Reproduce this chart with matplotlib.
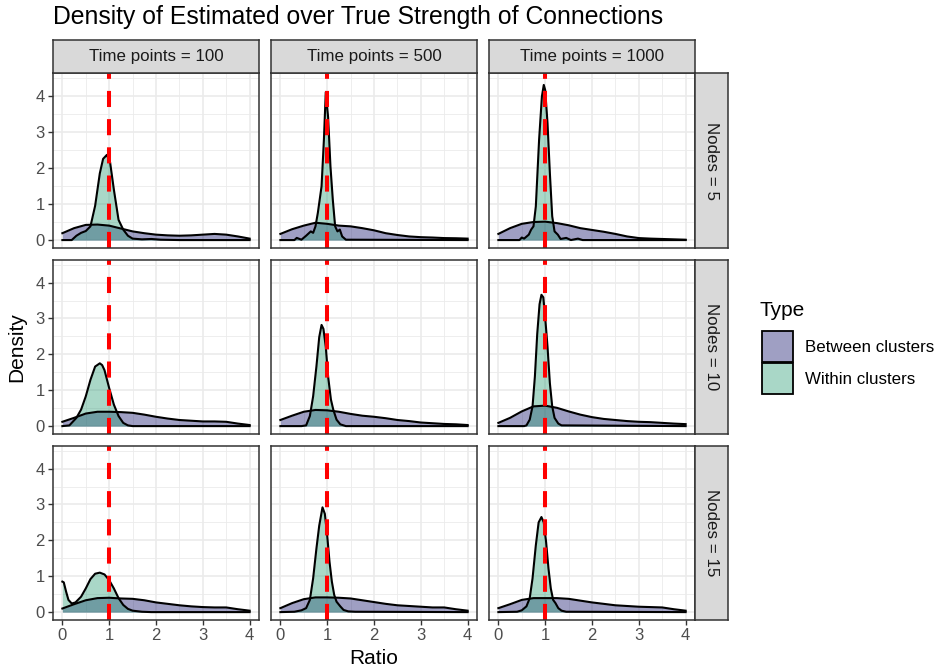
import matplotlib
matplotlib.use("Agg")
import matplotlib.pyplot as plt
from matplotlib.patches import Rectangle

plt.rcParams['font.family'] = ['Liberation Sans', 'DejaVu Sans']

# --- data ---
nodes = [5, 10, 15]
time_points = [100, 500, 1000]

# between clusters: densities on a shared ratio grid
ratio_grid = [0, 0.25, 0.5, 0.75, 1.0, 1.25, 1.5, 1.75, 2.0, 2.25, 2.5, 2.75, 3.0, 3.25, 3.5, 3.75, 4.0]
between_n5_t100 = [0.19, 0.33, 0.42, 0.43, 0.40, 0.32, 0.24, 0.19, 0.15, 0.13, 0.12, 0.13, 0.15, 0.17, 0.15, 0.10, 0.04]
between_n5_t500 = [0.17, 0.30, 0.40, 0.48, 0.45, 0.40, 0.38, 0.33, 0.27, 0.19, 0.14, 0.10, 0.08, 0.07, 0.055, 0.05, 0.04]
between_n5_t1000 = [0.17, 0.33, 0.45, 0.50, 0.51, 0.47, 0.41, 0.33, 0.28, 0.23, 0.17, 0.10, 0.055, 0.04, 0.03, 0.02, 0.01]
between_n10_t100 = [0.12, 0.23, 0.35, 0.40, 0.40, 0.39, 0.37, 0.32, 0.26, 0.21, 0.17, 0.15, 0.13, 0.13, 0.12, 0.07, 0.03]
between_n10_t500 = [0.17, 0.29, 0.40, 0.45, 0.44, 0.40, 0.34, 0.29, 0.26, 0.22, 0.17, 0.14, 0.10, 0.08, 0.06, 0.05, 0.03]
between_n10_t1000 = [0.09, 0.23, 0.41, 0.55, 0.57, 0.51, 0.41, 0.32, 0.25, 0.20, 0.17, 0.14, 0.12, 0.11, 0.09, 0.07, 0.055]
between_n15_t100 = [0.10, 0.22, 0.33, 0.39, 0.40, 0.38, 0.37, 0.33, 0.27, 0.23, 0.19, 0.16, 0.14, 0.13, 0.13, 0.08, 0.04]
between_n15_t500 = [0.11, 0.25, 0.36, 0.41, 0.41, 0.40, 0.38, 0.33, 0.28, 0.23, 0.19, 0.17, 0.15, 0.13, 0.13, 0.08, 0.04]
between_n15_t1000 = [0.11, 0.22, 0.34, 0.39, 0.39, 0.39, 0.37, 0.32, 0.27, 0.23, 0.19, 0.17, 0.15, 0.14, 0.13, 0.08, 0.04]

# within clusters: each curve has its own ratio points
within_x_n5_t100 = [0, 0.2, 0.3, 0.4, 0.5, 0.6, 0.7, 0.8, 0.87, 0.95, 1.02, 1.1, 1.2, 1.3, 1.4, 1.5, 1.7, 1.9, 2.1, 2.5, 4]
within_y_n5_t100 = [0, 0, 0.12, 0.2, 0.25, 0.38, 0.95, 1.85, 2.25, 2.36, 2.15, 1.4, 0.56, 0.29, 0.12, 0.04, 0.02, 0.03, 0.01, 0, 0]
within_x_n5_t500 = [0, 0.3, 0.35, 0.45, 0.55, 0.65, 0.7, 0.75, 0.8, 0.88, 0.93, 0.97, 1.02, 1.07, 1.12, 1.17, 1.22, 1.27, 1.32, 1.4, 4]
within_y_n5_t500 = [0, 0, 0.06, 0.01, 0.12, 0.24, 0.2, 0.38, 0.75, 1.49, 2.78, 4.1, 3.4, 2.04, 1.12, 0.38, 0.24, 0.29, 0.1, 0.01, 0]
within_x_n5_t1000 = [0, 0.45, 0.5, 0.55, 0.65, 0.7, 0.75, 0.8, 0.87, 0.93, 0.97, 1.0, 1.05, 1.1, 1.15, 1.2, 1.27, 1.33, 1.45, 1.55, 1.7, 1.8, 4]
within_y_n5_t1000 = [0, 0, 0.07, 0.04, 0.15, 0.29, 0.38, 0.93, 2.78, 3.98, 4.3, 4.16, 3.24, 1.86, 0.66, 0.24, 0.15, 0.03, 0.06, 0, 0.04, 0, 0]
within_x_n10_t100 = [0, 0.15, 0.3, 0.4, 0.5, 0.6, 0.7, 0.8, 0.85, 0.9, 1.0, 1.1, 1.2, 1.3, 1.4, 1.5, 4]
within_y_n10_t100 = [0, 0.02, 0.23, 0.46, 0.83, 1.29, 1.66, 1.75, 1.7, 1.56, 1.06, 0.6, 0.28, 0.09, 0.02, 0, 0]
within_x_n10_t500 = [0, 0.45, 0.55, 0.63, 0.7, 0.77, 0.83, 0.88, 0.92, 0.97, 1.02, 1.08, 1.13, 1.2, 1.28, 1.4, 4]
within_y_n10_t500 = [0, 0, 0.02, 0.28, 0.83, 1.66, 2.48, 2.82, 2.71, 2.21, 1.38, 0.74, 0.46, 0.18, 0.05, 0, 0]
within_x_n10_t1000 = [0, 0.55, 0.6, 0.67, 0.73, 0.78, 0.83, 0.88, 0.92, 0.96, 1.0, 1.05, 1.1, 1.15, 1.2, 1.28, 1.35, 4]
within_y_n10_t1000 = [0, 0, 0.02, 0.18, 0.55, 1.38, 2.57, 3.4, 3.66, 3.59, 3.03, 2.21, 1.2, 0.55, 0.23, 0.07, 0.02, 0]
within_x_n15_t100 = [0, 0.03, 0.08, 0.13, 0.2, 0.28, 0.4, 0.5, 0.6, 0.7, 0.8, 0.9, 1.0, 1.1, 1.2, 1.3, 1.4, 1.5, 1.7, 1.9, 4]
within_y_n15_t100 = [0.85, 0.83, 0.57, 0.34, 0.24, 0.27, 0.43, 0.66, 0.92, 1.07, 1.1, 1.05, 0.89, 0.66, 0.39, 0.2, 0.09, 0.04, 0.01, 0, 0]
within_x_n15_t500 = [0, 0.3, 0.45, 0.55, 0.63, 0.7, 0.77, 0.83, 0.9, 0.95, 1.0, 1.05, 1.1, 1.15, 1.2, 1.28, 1.35, 1.45, 1.6, 4]
within_y_n15_t500 = [0, 0.01, 0.05, 0.11, 0.34, 0.94, 1.77, 2.41, 2.92, 2.74, 2.14, 1.4, 0.85, 0.48, 0.29, 0.16, 0.06, 0.02, 0.01, 0]
within_x_n15_t1000 = [0, 0.4, 0.5, 0.6, 0.67, 0.73, 0.8, 0.86, 0.92, 0.97, 1.02, 1.07, 1.12, 1.17, 1.22, 1.28, 1.35, 1.45, 4]
within_y_n15_t1000 = [0, 0.01, 0.05, 0.16, 0.39, 0.94, 1.86, 2.5, 2.65, 2.5, 1.95, 1.22, 0.66, 0.34, 0.25, 0.11, 0.04, 0.01, 0]

true_ratio = 1

panels = [
    [(between_n5_t100, within_x_n5_t100, within_y_n5_t100),
     (between_n5_t500, within_x_n5_t500, within_y_n5_t500),
     (between_n5_t1000, within_x_n5_t1000, within_y_n5_t1000)],
    [(between_n10_t100, within_x_n10_t100, within_y_n10_t100),
     (between_n10_t500, within_x_n10_t500, within_y_n10_t500),
     (between_n10_t1000, within_x_n10_t1000, within_y_n10_t1000)],
    [(between_n15_t100, within_x_n15_t100, within_y_n15_t100),
     (between_n15_t500, within_x_n15_t500, within_y_n15_t500),
     (between_n15_t1000, within_x_n15_t1000, within_y_n15_t1000)],
]

# --- styling ---
between_col = '#111169'
within_col = '#2A9B75'
alpha = 0.4
W, H = 937, 672


def box(l, t, r, b):
    return [l / W, 1 - b / H, (r - l) / W, (b - t) / H]


fig = plt.figure(figsize=(W / 100, H / 100), dpi=100)

cols = [(53, 259), (271, 477), (489, 695)]
rows = [(73, 248), (260, 434), (446, 620)]

for i, (top, bot) in enumerate(rows):
    for j, (left, right) in enumerate(cols):
        ax = fig.add_axes(box(left, top, right, bot))
        between, wx, wy = panels[i][j]
        ax.fill_between(ratio_grid, 0, between, color=between_col, alpha=alpha, lw=0)
        ax.plot(ratio_grid, between, color='black', lw=1.5)
        ax.fill_between(wx, 0, wy, color=within_col, alpha=alpha, lw=0)
        ax.plot(wx, wy, color='black', lw=1.5)
        ax.axvline(true_ratio, color='red', lw=2.9, dashes=(4, 3))

        ax.set_xlim(-0.2, 4.2)
        ax.set_ylim(-0.22, 4.63)
        ax.set_xticks([0, 1, 2, 3, 4])
        ax.set_xticks([0.5, 1.5, 2.5, 3.5], minor=True)
        ax.set_yticks([0, 1, 2, 3, 4])
        ax.set_yticks([0.5, 1.5, 2.5, 3.5, 4.5], minor=True)
        ax.grid(True, which='major', color='#EBEBEB', lw=1.2)
        ax.grid(True, which='minor', color='#EBEBEB', lw=0.6)
        ax.set_axisbelow(True)
        for s in ax.spines.values():
            s.set_color('#333333')
            s.set_linewidth(1.1)
        ax.tick_params(which='minor', length=0)
        ax.tick_params(which='major', length=3.4, width=1.0, color='#333333',
                       labelsize=12, labelcolor='#4D4D4D', pad=2.5)
        if j != 0:
            ax.tick_params(axis='y', length=0, labelleft=False)
        if i != 2:
            ax.tick_params(axis='x', length=0, labelbottom=False)

        # strips
        if i == 0:
            sax = fig.add_axes(box(left, 40, right, 73))
            sax.set_facecolor('#D9D9D9')
            sax.set_xticks([])
            sax.set_yticks([])
            for s in sax.spines.values():
                s.set_color('#333333')
                s.set_linewidth(1.1)
            sax.text(0.5, 0.5, f'Time points = {time_points[j]}', ha='center', va='center',
                     fontsize=12.2, color='#1A1A1A', transform=sax.transAxes)
        if j == 2:
            rax = fig.add_axes(box(695, top, 728, bot))
            rax.set_facecolor('#D9D9D9')
            rax.set_xticks([])
            rax.set_yticks([])
            for s in rax.spines.values():
                s.set_color('#333333')
                s.set_linewidth(1.1)
            rax.text(0.5, 0.5, f'Nodes = {nodes[i]}', ha='center', va='center', rotation=-90,
                     fontsize=12.2, color='#1A1A1A', transform=rax.transAxes)

# titles
fig.text(53 / W, 1 - 17 / H, 'Density of Estimated over True Strength of Connections',
         fontsize=17.8, ha='left', va='center')
fig.text(17 / W, 1 - 347 / H, 'Density', rotation=90, fontsize=15, ha='center', va='center')
fig.text(374 / W, 1 - 659 / H, 'Ratio', fontsize=15, ha='center', va='center')

# legend
fig.text(760 / W, 1 - 310 / H, 'Type', fontsize=15, ha='left', va='center')
legend_items = [('Between clusters', between_col), ('Within clusters', within_col)]
for k, (label, col) in enumerate(legend_items):
    y_top = 331 + k * 32
    fig.patches.append(Rectangle((762 / W, 1 - (y_top + 31) / H), 31 / W, 31 / H,
                                 transform=fig.transFigure, facecolor=col, alpha=alpha,
                                 edgecolor='none'))
    fig.patches.append(Rectangle((762 / W, 1 - (y_top + 31) / H), 31 / W, 31 / H,
                                 transform=fig.transFigure, facecolor='none',
                                 edgecolor='black', lw=1.3))
    fig.text(805 / W, 1 - (y_top + 16) / H, label, fontsize=12.2, ha='left', va='center')

fig.savefig('out.png', dpi=100)
